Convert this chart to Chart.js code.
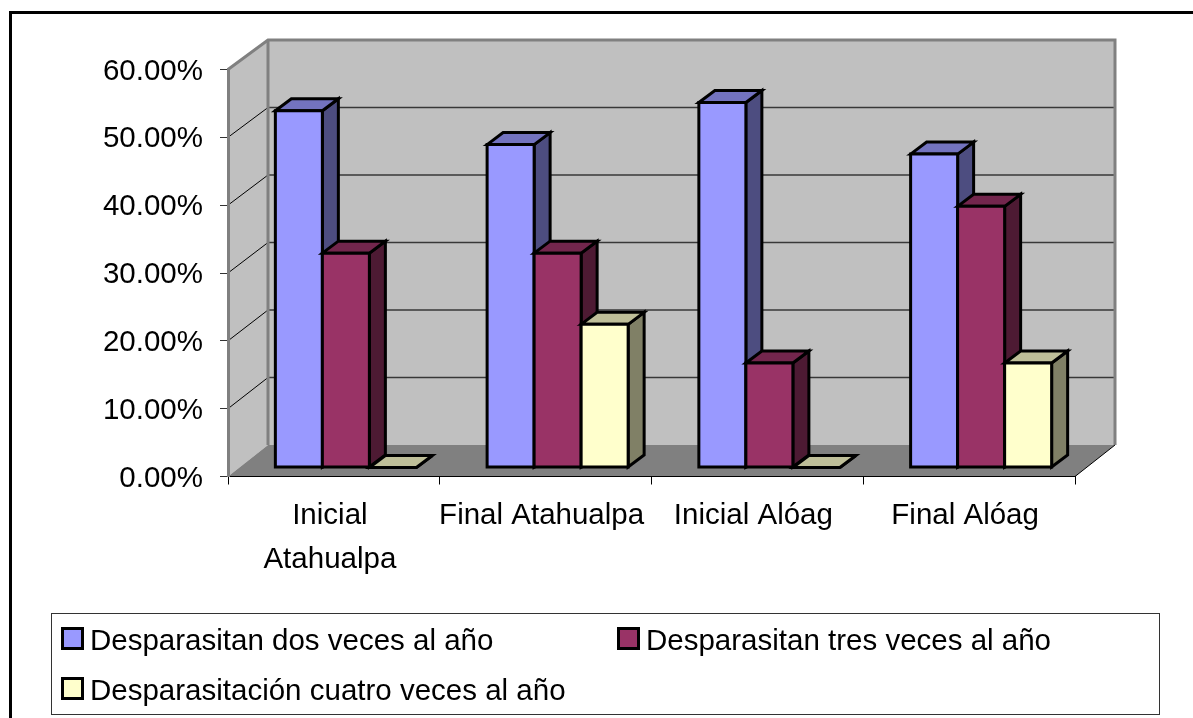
<!DOCTYPE html>
<html>
<head>
<meta charset="utf-8">
<style>html,body{margin:0;padding:0;background:#fff}canvas{display:block}</style>
<script src="https://cdn.jsdelivr.net/npm/chart.js@4"></script>
</head>
<body>
<canvas id="c" width="1193" height="718"></canvas>
<script>
const categories = [['Inicial','Atahualpa'],'Final Atahualpa','Inicial Alóag','Final Alóag'];
const seriesNames = ['Desparasitan dos veces al año','Desparasitan tres veces al año','Desparasitación cuatro veces al año'];
const dosVeces = [52.6, 47.6, 53.8, 46.2];
const tresVeces = [31.6, 31.6, 15.4, 38.5];
const cuatroVeces = [0, 21.1, 0, 15.4];

const front = ['#9999FF','#993366','#FFFFCC'];
const top3d = ['#7373BF','#73264D','#BFBF99'];
const side = ['#4D4D80','#4D1A33','#808066'];
const FONT = '"Liberation Sans", Arial, sans-serif';
const FS = 29.5;
const WALL = {dx:40, dyBottom:-31.5, dyTop:-29.5};
const BAR = {sx:12, sy:-9, dx:16, dy:-12, lw:3};
const GREY = '#808080';

function poly(ctx, pts, fill, stroke, lw){
  ctx.beginPath();
  pts.forEach((p,i)=> i?ctx.lineTo(p[0],p[1]):ctx.moveTo(p[0],p[1]));
  ctx.closePath();
  if(fill){ctx.fillStyle=fill;ctx.fill();}
  if(stroke){ctx.strokeStyle=stroke;ctx.lineWidth=lw;ctx.lineJoin='miter';ctx.stroke();}
}
function line(ctx,a,b,c,lw){
  ctx.beginPath();ctx.moveTo(a[0],a[1]);ctx.lineTo(b[0],b[1]);ctx.strokeStyle=c;ctx.lineWidth=lw;ctx.stroke();
}

const box3d = {
  id:'box3d',
  beforeDraw(chart){
    const {ctx,chartArea:a,scales:{y}} = chart;
    const dx = WALL.dx, dt = WALL.dyTop, db = WALL.dyBottom;
    const dyAt = v => db + (dt-db)*v/y.max;
    ctx.save();
    ctx.fillStyle='#fff';ctx.fillRect(0,0,chart.width,chart.height);
    // outer frame
    line(ctx,[10.5,12.5],[chart.width,12.5],'#000',3);
    line(ctx,[10.5,11],[10.5,chart.height],'#000',3);
    // side wall, back wall, floor
    poly(ctx,[[a.left,a.top],[a.left+dx,a.top+dt],[a.left+dx,a.bottom+db],[a.left,a.bottom]],'#C0C0C0');
    poly(ctx,[[a.left+dx,a.top+dt],[a.right+dx,a.top+dt],[a.right+dx,a.bottom+db],[a.left+dx,a.bottom+db]],'#C0C0C0');
    // gridlines
    y.ticks.forEach(t=>{
      if(t.value===0||t.value===y.max) return;
      const py=y.getPixelForValue(t.value), d=dyAt(t.value);
      line(ctx,[a.left,py],[a.left+dx,py+d],'#000',1);
      line(ctx,[a.left+dx,py+d],[a.right+dx,py+d],'#383838',1.3);
    });
    // wall edges
    ctx.lineJoin='miter';
    line(ctx,[a.left+dx,a.top+dt],[a.left+dx,a.bottom+db],GREY,3);
    ctx.beginPath();
    ctx.moveTo(a.left,a.top);ctx.lineTo(a.left+dx,a.top+dt);ctx.lineTo(a.right+dx,a.top+dt);ctx.lineTo(a.right+dx,a.bottom+db);
    ctx.strokeStyle=GREY;ctx.lineWidth=3;ctx.stroke();
    poly(ctx,[[a.left,a.bottom],[a.right,a.bottom],[a.right+dx,a.bottom+db],[a.left+dx,a.bottom+db]],GREY);
    line(ctx,[a.right,a.bottom],[a.right+dx,a.bottom+db],'#000',1);
    ctx.restore();
  },
  beforeDatasetsDraw(chart){
    const ctx = chart.ctx;
    ctx.save();
    chart.data.datasets.forEach((ds,i)=>{
      const meta = chart.getDatasetMeta(i);
      const B = BAR;
      ctx.save();
      ctx.translate(B.sx,B.sy);
      meta.data.forEach(el=>{
        const l=el.x-el.width/2, r=el.x+el.width/2, t=el.y, b=el.base;
        poly(ctx,[[r,t],[r+B.dx,t+B.dy],[r+B.dx,b+B.dy],[r,b]],side[i],'#000',B.lw);
        poly(ctx,[[l,t],[l+B.dx,t+B.dy],[r+B.dx,t+B.dy],[r,t]],top3d[i],'#000',B.lw);
      });
      meta.controller.draw();
      meta.data.forEach(el=>{
        const l=el.x-el.width/2, r=el.x+el.width/2, t=el.y, b=el.base;
        poly(ctx,[[l,t],[r,t],[r,b],[l,b]],null,'#000',B.lw);
      });
      ctx.restore();
    });
    ctx.restore();
    return false;
  },
  afterDraw(chart){
    const ctx = chart.ctx;
    ctx.save();
    ctx.strokeStyle='#333';ctx.lineWidth=1;
    ctx.strokeRect(51.5,613.5,1108,101);
    const spots=[[61,627,90],[617,627,646],[61,677,90]];
    ctx.font=FS+'px '+FONT;ctx.textBaseline='middle';ctx.textAlign='left';
    chart.data.datasets.forEach((ds,i)=>{
      const [sx,sy,tx]=spots[i];
      poly(ctx,[[sx+1.5,sy+1.5],[sx+21.5,sy+1.5],[sx+21.5,sy+21.5],[sx+1.5,sy+21.5]],front[i],'#000',3);
      ctx.fillStyle='#000';
      ctx.fillText(ds.label,tx,sy+15);
    });
    ctx.restore();
  }
};

new Chart(document.getElementById('c'),{
  type:'bar',
  data:{
    labels:categories,
    datasets:[
      {label:seriesNames[0],data:dosVeces,backgroundColor:front[0],borderWidth:0},
      {label:seriesNames[1],data:tresVeces,backgroundColor:front[1],borderWidth:0},
      {label:seriesNames[2],data:cuatroVeces,backgroundColor:front[2],borderWidth:0}
    ]
  },
  options:{
    responsive:false,
    animation:false,
    devicePixelRatio:1,
    layout:{padding:{top:69.5,right:118,left:0,bottom:0}},
    datasets:{bar:{categoryPercentage:0.666,barPercentage:1}},
    plugins:{legend:{display:false},title:{display:false},tooltip:{enabled:false}},
    scales:{
      x:{
        afterFit(s){s.height=718-476.5;},
        grid:{drawOnChartArea:false,drawTicks:true,tickLength:8,tickColor:'#000',tickWidth:1,offset:true},
        border:{display:true,color:'#000',width:1},
        ticks:{color:'#000',font:{family:FONT,size:FS,lineHeight:1.5},padding:9,labelOffset:-4,maxRotation:0,minRotation:0,autoSkip:false}
      },
      y:{
        min:0,max:60,
        afterFit(s){s.width=228;},
        grid:{drawOnChartArea:false,drawTicks:true,tickLength:8,tickColor:'#333',tickWidth:1},
        border:{display:true,color:GREY,width:3},
        ticks:{color:'#000',stepSize:10,font:{family:FONT,size:FS},padding:17,labelOffset:2,callback:v=>v.toFixed(2)+'%'}
      }
    }
  },
  plugins:[box3d]
});
</script>
</body>
</html>
